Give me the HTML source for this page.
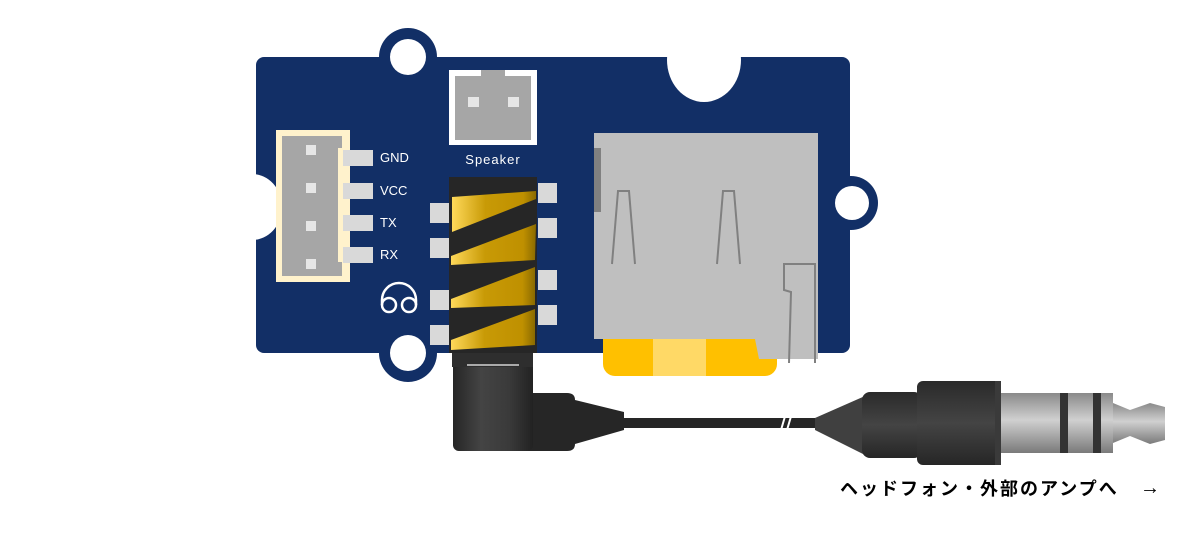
<!DOCTYPE html>
<html><head><meta charset="utf-8"><style>
html,body{margin:0;padding:0;background:#fff;width:1200px;height:541px;overflow:hidden}
svg{display:block}
text{font-family:"Liberation Sans","Noto Sans CJK JP",sans-serif}
</style></head><body>
<svg width="1200" height="541" viewBox="0 0 1200 541" xmlns="http://www.w3.org/2000/svg">
<defs>
<linearGradient id="gold" x1="0" x2="1" y1="0" y2="0">
<stop offset="0" stop-color="#ffd95a"/><stop offset="0.4" stop-color="#c89a06"/><stop offset="0.85" stop-color="#bf9000"/><stop offset="1" stop-color="#8a6a00"/>
</linearGradient>
<linearGradient id="plug" x1="0" x2="1">
<stop offset="0" stop-color="#262626"/><stop offset="0.35" stop-color="#444"/><stop offset="0.7" stop-color="#3a3a3a"/><stop offset="1" stop-color="#222"/>
</linearGradient>
<linearGradient id="metal" x1="0" x2="0" y1="0" y2="1">
<stop offset="0" stop-color="#8a8a8a"/><stop offset="0.45" stop-color="#d0d0d0"/><stop offset="1" stop-color="#7a7a7a"/>
</linearGradient>
<linearGradient id="dk" x1="0" x2="0" y1="0" y2="1">
<stop offset="0" stop-color="#2a2a2a"/><stop offset="0.5" stop-color="#444"/><stop offset="1" stop-color="#262626"/>
</linearGradient>
</defs>
<circle cx="408" cy="57" r="29" fill="#122f66"/>
<circle cx="408" cy="353" r="29" fill="#122f66"/>
<circle cx="851" cy="203" r="27" fill="#122f66"/>
<rect x="256" y="57" width="594" height="296" rx="8" fill="#122f66"/>
<circle cx="408" cy="57" r="18" fill="#fff"/>
<circle cx="408" cy="353" r="18" fill="#fff"/>
<circle cx="852" cy="203" r="17" fill="#fff"/>
<ellipse cx="704" cy="60" rx="37" ry="42" fill="#fff"/>
<rect x="660" y="20" width="90" height="37" fill="#fff"/>
<ellipse cx="252" cy="207" rx="30" ry="33" fill="#fff"/>
<rect x="276" y="130" width="74" height="152" fill="#fff2cc"/>
<path d="M282 136 H342 V148 H338 V262 H342 V276 H282 Z" fill="#a6a6a6"/>
<g fill="#e6e6e6">
<rect x="306" y="145" width="10" height="10"/><rect x="306" y="183" width="10" height="10"/>
<rect x="306" y="221" width="10" height="10"/><rect x="306" y="259" width="10" height="10"/>
</g>
<g fill="#d9d9d9">
<rect x="343" y="150" width="30" height="16"/><rect x="343" y="183" width="30" height="16"/>
<rect x="343" y="215" width="30" height="16"/><rect x="343" y="247" width="30" height="16"/>
</g>
<g fill="#fff" font-size="13">
<text x="380" y="162">GND</text><text x="380" y="195">VCC</text>
<text x="380" y="227">TX</text><text x="380" y="259">RX</text>
</g>
<path d="M382 305 V300 A17 17 0 0 1 416 300 V305" fill="none" stroke="#fff" stroke-width="2.5"/>
<circle cx="389" cy="305" r="7" fill="none" stroke="#fff" stroke-width="2.5"/>
<circle cx="409" cy="305" r="7" fill="none" stroke="#fff" stroke-width="2.5"/>
<rect x="449" y="70" width="88" height="75" fill="#fff"/>
<rect x="455" y="76" width="76" height="64" fill="#a6a6a6"/>
<rect x="481" y="70" width="24" height="7" fill="#a6a6a6"/>
<rect x="468" y="97" width="11" height="10" fill="#e6e6e6"/><rect x="508" y="97" width="11" height="10" fill="#e6e6e6"/>
<text x="493" y="164" fill="#fff" font-size="13" text-anchor="middle" letter-spacing="1">Speaker</text>
<g fill="#d9d9d9">
<rect x="430" y="203" width="19" height="20"/><rect x="430" y="238" width="19" height="20"/>
<rect x="430" y="290" width="19" height="20"/><rect x="430" y="325" width="19" height="20"/>
<rect x="538" y="183" width="19" height="20"/><rect x="538" y="218" width="19" height="20"/>
<rect x="538" y="270" width="19" height="20"/><rect x="538" y="305" width="19" height="20"/>
</g>
<rect x="449" y="177" width="88" height="176" fill="#262626"/>
<g fill="url(#gold)">
<polygon points="452,197 536,191 536,199 452,232"/>
<polygon points="536,224 535,260 451,265 451,256"/>
<polygon points="535,267 535,305 451,308 451,299"/>
<polygon points="535,309 535,345 451,350 451,340"/>
</g>
<rect x="452" y="353" width="81" height="14" fill="#2e2e2e"/>
<rect x="467" y="364" width="52" height="2" fill="#aaa"/>
<rect x="603" y="320" width="174" height="56" rx="12" fill="#ffc000"/>
<rect x="653" y="339" width="53" height="37" fill="#ffd966"/>
<path d="M594 133 H818 V359 H759 L755 339 H594 Z" fill="#bfbfbf"/>
<rect x="594" y="148" width="7" height="64" fill="#808080"/>
<g fill="none" stroke="#808080" stroke-width="2">
<path d="M612 264 L618 191 H629 L635 264"/>
<path d="M717 264 L723 191 H734 L740 264"/>
<path d="M816 264 H784 V290 L791 292 L789 363"/>
<path d="M815 264 V363"/>
</g>
<path d="M453 367 H533 V393 H567 Q575 393 575 400 L624 412 V430 L575 444 Q575 451 567 451 H461 Q453 451 453 443 Z" fill="#262626"/>
<rect x="453" y="367" width="80" height="84" rx="6" fill="url(#plug)"/>
<rect x="620" y="418" width="200" height="10" fill="#262626"/>
<path d="M781 430 L786 413 M787 430 L792 413" stroke="#fff" stroke-width="2"/>
<polygon points="815,418 865,396 865,455 815,430" fill="#404040"/>
<rect x="862" y="392" width="60" height="66" rx="8" fill="url(#dk)"/>
<rect x="917" y="381" width="84" height="84" rx="6" fill="url(#dk)"/>
<rect x="995" y="381" width="6" height="84" fill="#3a3a3a"/>
<rect x="1001" y="393" width="112" height="60" fill="url(#metal)"/>
<rect x="1060" y="393" width="8" height="60" fill="#333"/>
<rect x="1093" y="393" width="8" height="60" fill="#333"/>
<polygon points="1113,403 1130,410 1150,403 1165,407 1165,440 1150,444 1130,436 1113,443" fill="url(#metal)"/>
<text x="840" y="495" font-size="18" font-weight="bold" fill="#000" letter-spacing="2">ヘッドフォン・外部のアンプへ</text>
<text x="1140" y="494" font-size="20" font-weight="bold" fill="#000">→</text>
</svg>
</body></html>
